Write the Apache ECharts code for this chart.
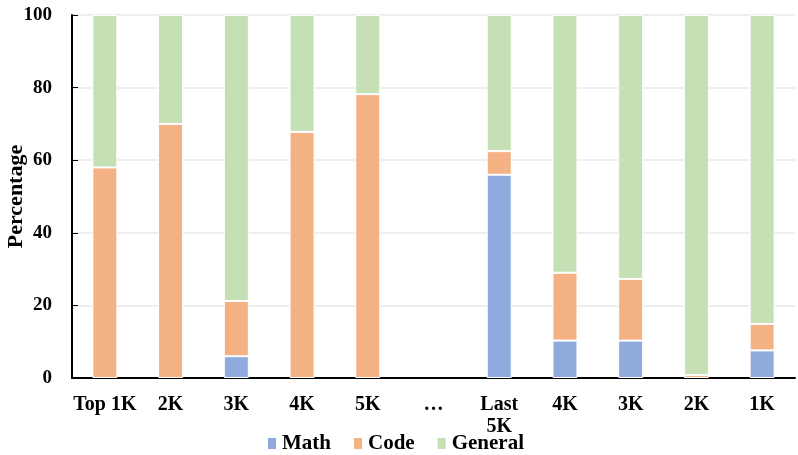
<!DOCTYPE html>
<html><head><meta charset="utf-8">
<script src="https://cdn.jsdelivr.net/npm/echarts@6/dist/echarts.min.js"></script>
<style>html,body{margin:0;padding:0;background:#fff}#c{width:798px;height:455px}</style>
</head><body><div id="c"></div>
<script>
const categories = ['Top 1K','2K','3K','4K','5K','…','Last\n5K','4K','3K','2K','1K'];
const mathVals = [0, 0, 6, 0, 0, null, 56, 10.3, 10.3, 0, 7.6];
const codeVals = [58, 70, 15.2, 67.8, 78.2, null, 6.5, 18.7, 17, 0.8, 7.3];
const generalVals = [42, 30, 78.8, 32.2, 21.8, null, 37.5, 71, 72.7, 99.2, 85.1];
const yTicks = {min: 0, max: 100, interval: 20};

const font = '"Liberation Serif","Times New Roman",serif';
const chart = echarts.init(document.getElementById('c'), null, {renderer: 'canvas'});
const clean = arr => arr.map(v => (v === 0 ? null : v));
const mk = (name, data, color) => ({
  name, type: 'bar', stack: 'total', data: clean(data), barWidth: 25,
  itemStyle: {color, borderColor: '#fff', borderWidth: 1}
});
chart.setOption({
  animation: false,
  grid: {left: 72, right: 3, top: 15, bottom: 77, containLabel: false, outerBoundsMode: 'none'},
  legend: {
    left: 266, top: 433, itemWidth: 10, itemHeight: 13, itemGap: 21,
    icon: 'rect', padding: 0,
    textStyle: {fontFamily: font, fontWeight: 'bold', fontSize: 21, color: '#000'},
    data: ['Math', 'Code', 'General']
  },
  xAxis: {
    type: 'category', data: categories,
    axisLine: {lineStyle: {color: '#000', width: 2}},
    axisTick: {show: false},
    axisLabel: {fontFamily: font, fontWeight: 'bold', fontSize: 20, color: '#000', margin: 16, interval: 0, lineHeight: 22}
  },
  yAxis: {
    type: 'value', min: yTicks.min, max: yTicks.max, interval: yTicks.interval,
    name: 'Percentage', nameLocation: 'middle', nameGap: 45, nameMoveOverlap: false,
    nameTextStyle: {fontFamily: font, fontWeight: 'bold', fontSize: 22, color: '#000'},
    axisLine: {show: true, lineStyle: {color: '#000', width: 2}},
    axisTick: {show: true, inside: true, length: 6, lineStyle: {color: '#000'}},
    splitLine: {lineStyle: {color: '#eeeeee', width: 2}},
    axisLabel: {fontFamily: font, fontWeight: 'bold', fontSize: 19, color: '#000', margin: 20}
  },
  series: [
    mk('Math', mathVals, '#8FAADC'),
    mk('Code', codeVals, '#F4B183'),
    mk('General', generalVals, '#C5E0B4')
  ]
});
</script></body></html>
